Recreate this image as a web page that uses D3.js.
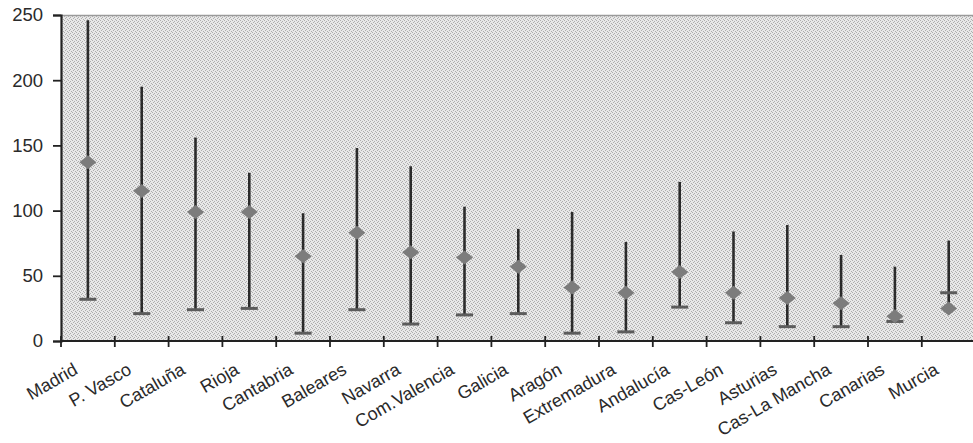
<!DOCTYPE html>
<html><head><meta charset="utf-8">
<script src="https://cdn.jsdelivr.net/npm/d3@7"></script>
<style>html,body{margin:0;padding:0;background:#fff;overflow:hidden}</style>
</head><body><div id="chart"></div>
<script>
const categories = ["Madrid","P. Vasco","Cataluña","Rioja","Cantabria","Baleares","Navarra","Com.Valencia","Galicia","Aragón","Extremadura","Andalucía","Cas-León","Asturias","Cas-La Mancha","Canarias","Murcia"];
const highValues = [246,195,156,129,98,148,134,103,86,99,76,122,84,89,66,57,77];
const lowValues  = [32,21,24,25,6,24,13,20,21,6,7,26,14,11,11,15,27];
const tickValues = [32,21,24,25,6,24,13,20,21,6,7,26,14,11,11,15,37];
const meanValues = [137,115,99,99,65,83,68,64,57,41,37,53,37,33,29,19,25];
const yTicks = [0,50,100,150,200,250];

(function(){
const W = 973, H = 443;
const pl = 61, pt = 15, pb = 341, pr = 61 + 17*53.8;

const svg = d3.select("#chart").append("svg").attr("width", W).attr("height", H);

const defs = svg.append("defs");
const pat = defs.append("pattern").attr("id","dither").attr("patternUnits","userSpaceOnUse")
  .attr("width",4).attr("height",4);
pat.append("rect").attr("width",4).attr("height",4).attr("fill","#e8e8e8");
[[0,0],[2,1],[1,2],[3,3]].forEach(p=>pat.append("rect").attr("x",p[0]).attr("y",p[1])
  .attr("width",1).attr("height",1).attr("fill","#adadad"));

const x = d3.scaleBand().domain(categories).range([pl, pr]).padding(0);
const y = d3.scaleLinear().domain([0,250]).range([pb, pt]);

svg.append("rect").attr("x", pl).attr("y", pt).attr("width", pr-pl).attr("height", pb-pt)
  .attr("fill", "url(#dither)");
svg.append("line").attr("x1", pl).attr("x2", pr).attr("y1", pt+0.5).attr("y2", pt+0.5)
  .attr("stroke", "#9a9a9a").attr("stroke-width", 1.5);

const data = categories.map((c,i)=>({c, hi:highValues[i], lo:lowValues[i], tk:tickValues[i], m:meanValues[i]}));
const cx = d => x(d.c) + x.bandwidth()/2;

svg.selectAll("line.hl").data(data).enter().append("line").attr("class","hl")
  .attr("x1", cx).attr("x2", cx).attr("y1", d=>y(d.hi)).attr("y2", d=>y(d.lo))
  .attr("stroke", "#2b2b2b").attr("stroke-width", 2.6);

svg.selectAll("rect.tk").data(data).enter().append("rect").attr("class","tk")
  .attr("x", d=>cx(d)-8.5).attr("y", d=>y(d.tk)-1.5).attr("width", 17).attr("height", 3)
  .attr("fill", "#5c5c5c");

svg.selectAll("path.dm").data(data).enter().append("path").attr("class","dm")
  .attr("d", d=>{const X=cx(d), Y=y(d.m); return `M${X-8.5},${Y} L${X},${Y-7} L${X+8.5},${Y} L${X},${Y+7} Z`;})
  .attr("fill", "#7c7c7c");

const yAxis = d3.axisLeft(y).tickValues(yTicks).tickSize(8).tickPadding(10).tickFormat(d3.format("d"));
const gy = svg.append("g").attr("transform", `translate(${pl},0)`).call(yAxis);
gy.select(".domain").attr("stroke", "#222").attr("stroke-width", 2.2);
gy.selectAll(".tick line").attr("stroke", "#222").attr("stroke-width", 1.8);
gy.selectAll(".tick text").attr("font-family", "Liberation Sans, Arial, sans-serif").attr("font-size", 18.5)
  .attr("fill", "#2a2a2a");

svg.append("line").attr("x1", pl).attr("x2", pr).attr("y1", pb).attr("y2", pb)
  .attr("stroke", "#222").attr("stroke-width", 2.2);
const bounds = categories.map(c=>x(c)).concat([pr]);
svg.selectAll("line.xt").data(bounds).enter().append("line").attr("class","xt")
  .attr("x1", d=>d).attr("x2", d=>d).attr("y1", pb-5).attr("y2", pb+6)
  .attr("stroke", "#222").attr("stroke-width", 1.8);

svg.selectAll("text.xl").data(categories).enter().append("text").attr("class","xl")
  .attr("transform", c=>`translate(${x(c)+x.bandwidth()/2-9},373) rotate(-30)`)
  .attr("text-anchor", "end")
  .attr("font-family", "Liberation Sans, Arial, sans-serif").attr("font-size", 18)
  .attr("fill", "#2a2a2a")
  .text(c=>c);
})();
</script></body></html>
